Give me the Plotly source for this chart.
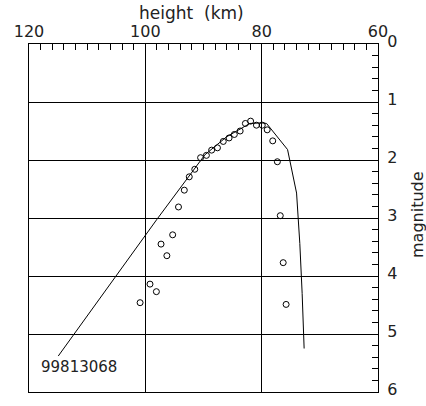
import plotly.graph_objects as go

# observed data (height km, magnitude)
obs_height = [100.9, 99.2, 98.1, 97.3, 96.3, 95.3, 94.3, 93.3, 92.45, 91.5, 90.5, 89.5,
              88.6, 87.6, 86.6, 85.6, 84.7, 83.7, 82.8, 81.9, 80.9, 79.9, 79.05, 78.1,
              77.3, 76.8, 76.3, 75.8]
obs_mag = [4.46, 4.14, 4.27, 3.45, 3.65, 3.29, 2.81, 2.52, 2.29, 2.16, 1.96, 1.92,
           1.83, 1.79, 1.68, 1.62, 1.56, 1.50, 1.37, 1.33, 1.40, 1.40, 1.48, 1.67,
           2.03, 2.96, 3.77, 4.49]

# model curve
model_height = [114.97, 98.06, 89.76, 86.03, 82.03, 80.0, 79.16, 75.55, 74.0, 73.44, 73.04, 72.70]
model_mag = [5.38, 3.03, 1.91, 1.60, 1.37, 1.36, 1.37, 1.82, 2.57, 3.44, 4.30, 5.25]

label_text = "99813068"
x_title = "height  (km)"
y_title = "magnitude"

FONT = "DejaVu Sans"
TXT = "#222222"

fig = go.Figure()
fig.add_trace(go.Scatter(x=model_height, y=model_mag, mode="lines",
                         line=dict(color="black", width=1), showlegend=False))
fig.add_trace(go.Scatter(x=obs_height, y=obs_mag, mode="markers",
                         marker=dict(symbol="circle-open", size=6, color="black",
                                     line=dict(width=1, color="black")),
                         showlegend=False))

fig.add_annotation(x=118.3, y=5.57, text=label_text, showarrow=False,
                   xanchor="left", yanchor="middle",
                   font=dict(family=FONT, size=15, color=TXT))
fig.add_annotation(xref="paper", yref="paper", x=0.466, y=1.089, text=x_title,
                   showarrow=False, xanchor="center", yanchor="middle",
                   font=dict(family=FONT, size=17, color=TXT))
fig.add_annotation(xref="paper", yref="paper", x=1.115, y=0.509, text=y_title,
                   showarrow=False, xanchor="center", yanchor="middle", textangle=-90,
                   font=dict(family=FONT, size=16, color=TXT))

fig.update_layout(
    width=426, height=406,
    margin=dict(l=29, r=48, t=44, b=14, autoexpand=False),
    paper_bgcolor="white", plot_bgcolor="white",
    xaxis=dict(side="top", range=[120, 60], tickvals=[120, 100, 80, 60],
               showline=True, mirror=True, linecolor="black", linewidth=1,
               showgrid=True, gridcolor="black", gridwidth=1, zeroline=False,
               ticks="inside", ticklen=9, tickcolor="black", automargin=False,
               tickfont=dict(family=FONT, size=16, color=TXT),
               minor=dict(ticks="inside", dtick=2, ticklen=6, tickcolor="black", showgrid=False)),
    yaxis=dict(side="right", range=[6, 0], tickvals=[0, 1, 2, 3, 4, 5, 6],
               showline=True, mirror=True, linecolor="black", linewidth=1,
               showgrid=True, gridcolor="black", gridwidth=1, zeroline=False,
               ticks="inside", ticklen=9, tickcolor="black", automargin=False,
               ticklabelshift=3, ticklabelstandoff=5,
               tickfont=dict(family=FONT, size=16, color=TXT),
               minor=dict(ticks="inside", dtick=0.2, ticklen=6, tickcolor="black", showgrid=False)),
)

fig.write_html("out.html")
